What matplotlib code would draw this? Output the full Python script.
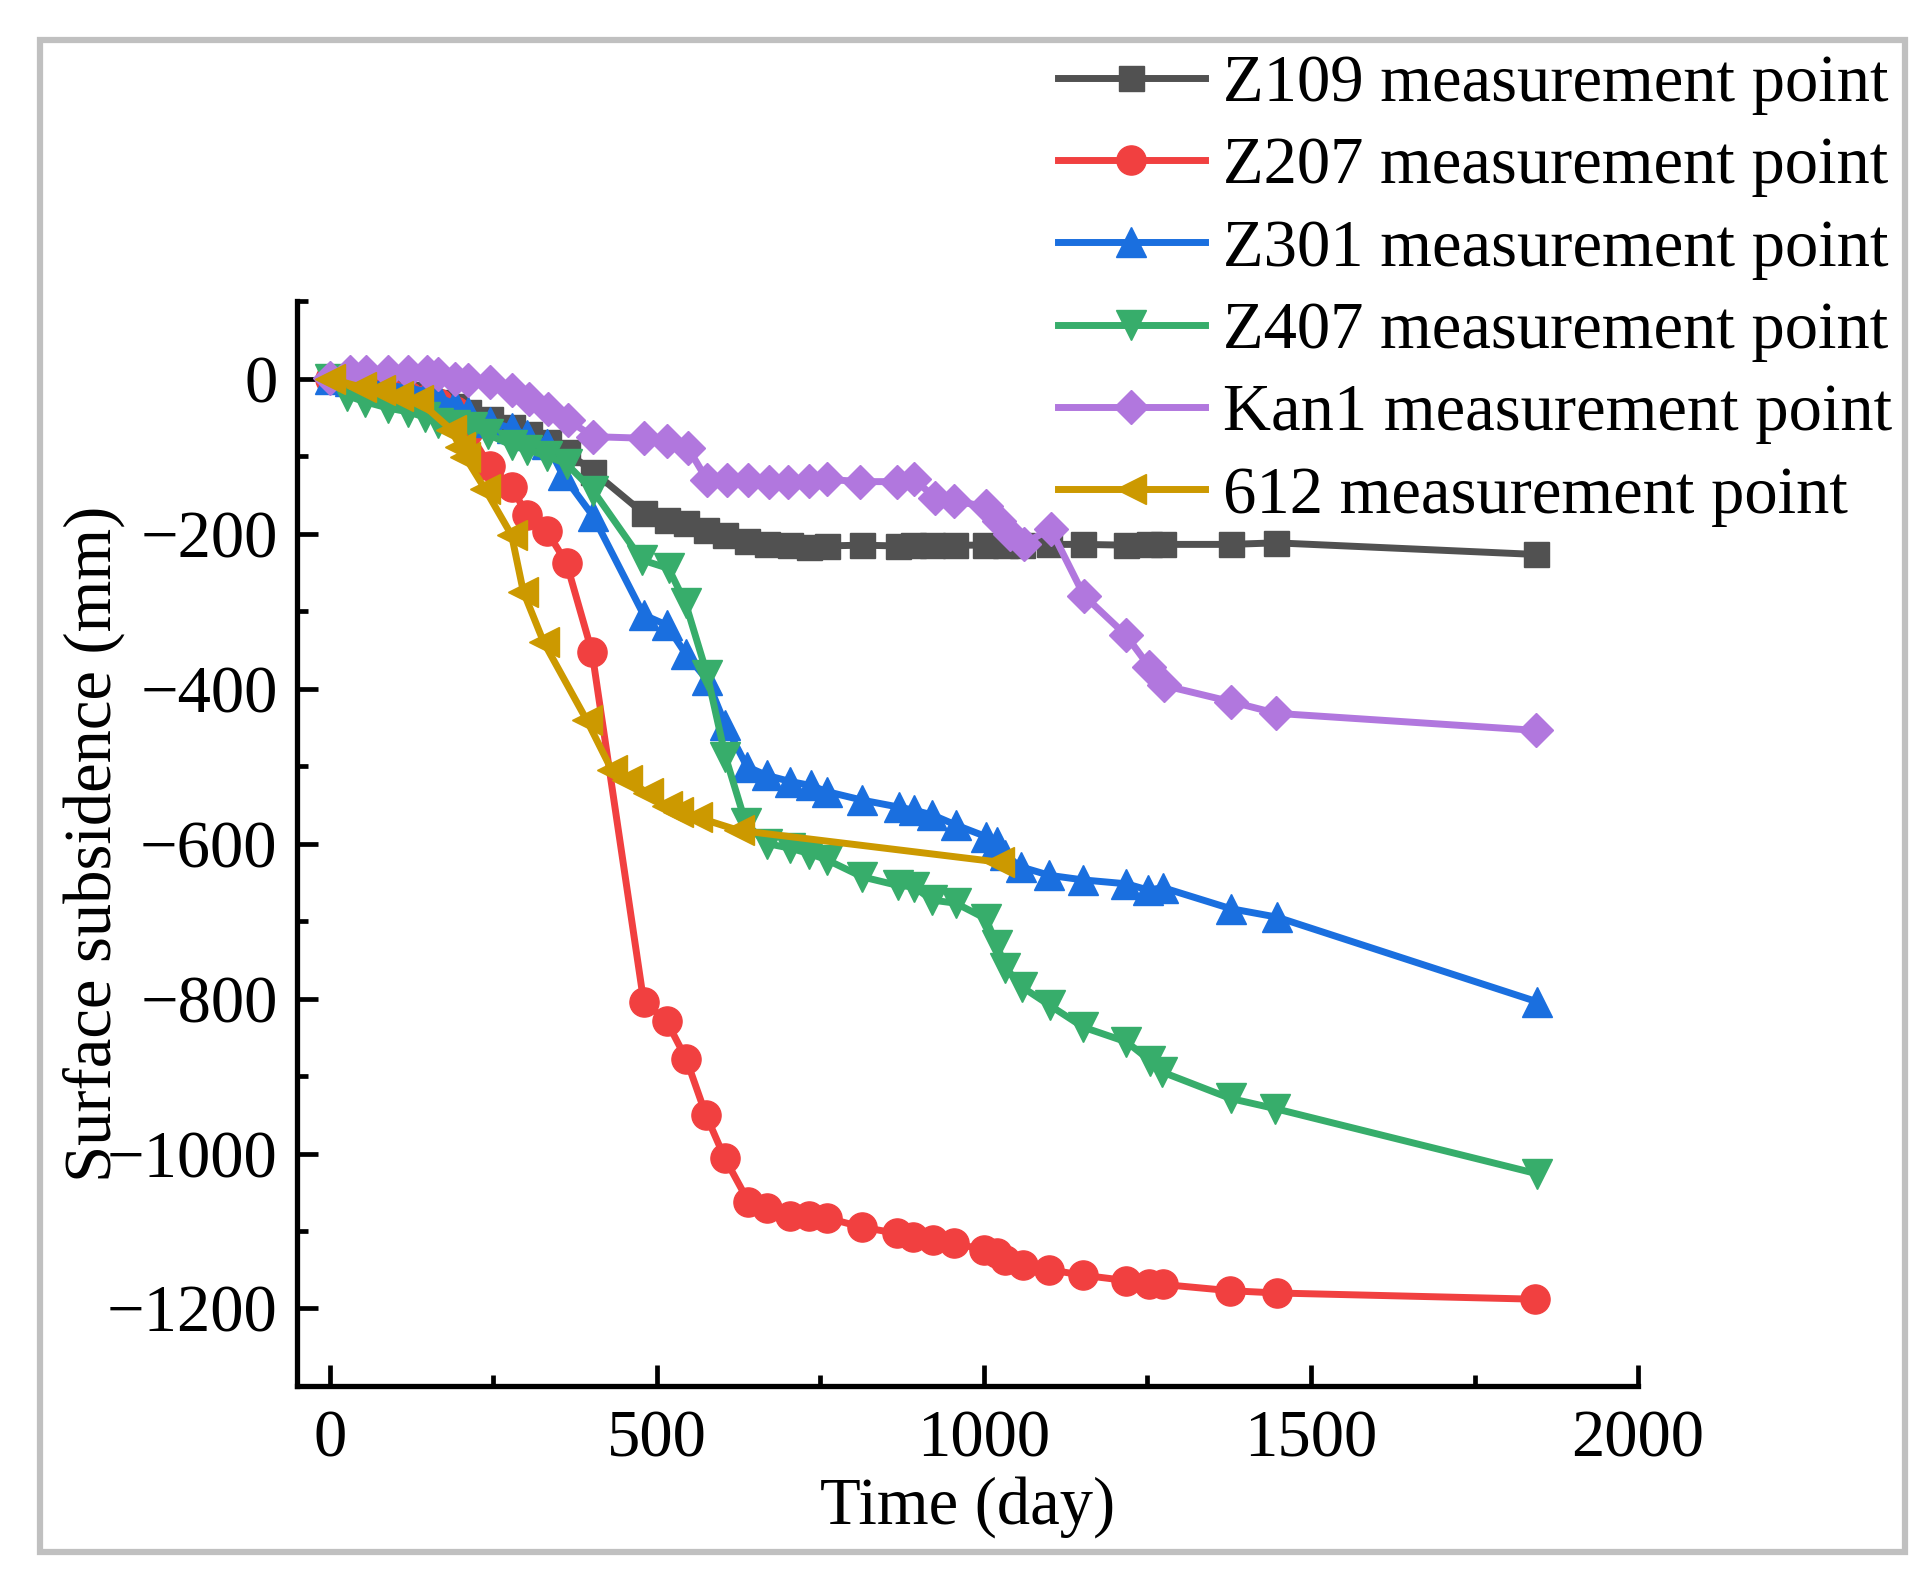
import matplotlib
matplotlib.use("Agg")
import matplotlib.pyplot as plt
from matplotlib.patches import Rectangle
from matplotlib.ticker import MultipleLocator

plt.rcParams["font.family"] = ["Liberation Serif", "DejaVu Serif"]

# measurement days and subsidence (mm) per point
Z109_DAYS = [0, 31, 56, 89, 120, 148, 166, 191, 212, 245, 278, 304, 334, 362, 403, 480, 515, 545,
             575, 604, 638, 668, 703, 733, 760, 813, 868, 892, 921, 956, 1002, 1033, 1058, 1100,
             1151, 1218, 1253, 1274, 1377, 1447, 1844]
Z109_VALS = [0, -5, -10, -15, -20, -25, -30, -36, -43, -52, -62, -72, -82, -95, -120, -174, -183,
             -186, -196, -202, -209, -213, -215, -217, -216, -215, -216, -215, -215, -215, -215,
             -215, -215, -214, -214, -215, -214, -214, -214, -212, -227]

Z207_DAYS = [0, 31, 56, 89, 120, 148, 166, 191, 212, 245, 279, 301, 332, 362, 401, 480, 515, 545,
             575, 604, 640, 668, 703, 732, 760, 813, 867, 891, 922, 955, 1000, 1020, 1033, 1060,
             1100, 1151, 1218, 1253, 1274, 1376, 1448, 1843]
Z207_VALS = [0, -8, -14, -18, -22, -26, -32, -42, -68, -113, -140, -176, -197, -238, -353, -804,
             -829, -878, -950, -1006, -1062, -1070, -1080, -1080, -1083, -1095, -1103, -1108,
             -1111, -1116, -1124, -1128, -1138, -1144, -1150, -1157, -1164, -1168, -1169, -1177,
             -1180, -1188]

Z301_DAYS = [0, 31, 56, 89, 120, 148, 166, 191, 212, 245, 278, 301, 332, 356, 403, 480, 515, 544,
             577, 605, 638, 668, 704, 735, 760, 814, 870, 893, 921, 957, 1003, 1020, 1033, 1056,
             1100, 1152, 1218, 1251, 1274, 1377, 1448, 1845]
Z301_VALS = [0, -3, -6, -9, -12, -17, -24, -33, -43, -56, -64, -73, -84, -124, -178, -305, -318,
             -355, -389, -447, -501, -512, -520, -525, -533, -544, -553, -557, -563, -576, -591,
             -598, -615, -630, -641, -647, -652, -660, -657, -684, -695, -804]

Z407_DAYS = [0, 26, 54, 89, 120, 146, 166, 191, 217, 242, 278, 301, 332, 362, 403, 477, 518, 544,
             577, 605, 636, 668, 704, 733, 760, 814, 868, 893, 921, 957, 1003, 1020, 1033, 1058,
             1101, 1152, 1218, 1254, 1273, 1377, 1445, 1845]
Z407_VALS = [0, -22, -30, -38, -43, -50, -58, -60, -62, -72, -86, -92, -100, -110, -145, -234,
             -245, -290, -382, -488, -574, -600, -606, -613, -621, -643, -654, -656, -673, -677,
             -697, -731, -760, -785, -809, -837, -856, -880, -895, -929, -942, -1026]

KAN1_DAYS = [0, 31, 56, 89, 120, 148, 166, 191, 212, 245, 278, 304, 334, 365, 403, 480, 515, 548,
             577, 607, 640, 671, 701, 732, 760, 811, 867, 893, 926, 954, 1003, 1023, 1040, 1061,
             1102, 1153, 1217, 1253, 1275, 1378, 1447, 1844]
KAN1_VALS = [1, 9, 9, 9, 9, 9, 6, 0, -2, -5, -15, -26, -39, -54, -75, -77, -80, -90, -131, -131,
             -131, -133, -133, -132, -130, -133, -133, -130, -154, -158, -165, -184, -200, -213,
             -194, -280, -331, -372, -396, -417, -432, -454]

P612_DAYS = [0, 48, 77, 105, 135, 186, 199, 207, 237, 278, 296, 327, 393, 431, 454, 487, 515, 533,
             561, 625, 1023]
P612_VALS = [0, -11, -15, -22, -28, -66, -88, -101, -142, -202, -275, -340, -441, -505, -518,
             -535, -551, -559, -566, -583, -624]

SERIES = [
    ("Z109 measurement point", Z109_DAYS, Z109_VALS, "#515151", "s", 18),
    ("Z207 measurement point", Z207_DAYS, Z207_VALS, "#F14040", "o", 21),
    ("Z301 measurement point", Z301_DAYS, Z301_VALS, "#1A6FDF", "^", 22),
    ("Z407 measurement point", Z407_DAYS, Z407_VALS, "#37AD6B", "v", 22),
    ("Kan1 measurement point", KAN1_DAYS, KAN1_VALS, "#B177DE", "D", 17),
    ("612 measurement point", P612_DAYS, P612_VALS, "#CC9900", "<", 22),
]

FS = 48

fig = plt.figure(figsize=(19.31, 15.82), dpi=100)
ax = fig.add_axes([0.1538, 0.1239, 0.6945, 0.6858])

for lab, d, v, c, m, ms in SERIES:
    ax.plot(d, v, color=c, lw=5, marker=m, ms=ms, mec=c, mfc=c, label=lab)

ax.set_xlim(-50, 2000)
ax.set_ylim(-1300, 100)
ax.xaxis.set_major_locator(MultipleLocator(500))
ax.xaxis.set_minor_locator(MultipleLocator(250))
ax.yaxis.set_major_locator(MultipleLocator(200))
ax.yaxis.set_minor_locator(MultipleLocator(100))

for s in ("top", "right"):
    ax.spines[s].set_visible(False)
for s in ("left", "bottom"):
    ax.spines[s].set_linewidth(3.8)

ax.tick_params(which="major", direction="in", length=15, width=3.4, labelsize=FS)
ax.tick_params(which="minor", direction="in", length=8, width=3.4)
ax.tick_params(axis="x", which="major", pad=17)
ax.tick_params(axis="y", which="major", pad=14)

ax.set_xlabel("Time (day)", fontsize=FS, labelpad=4)
ax.set_ylabel("Surface subsidence (mm)", fontsize=FS)
ax.yaxis.set_label_coords(-0.128, 0.5)

ax.legend(loc="upper left", bbox_to_anchor=(1058 / 1931, 1 - 54 / 1582),
          bbox_transform=fig.transFigure, frameon=False, fontsize=FS,
          borderpad=0, borderaxespad=0, handlelength=2.2, handletextpad=0.28,
          labelspacing=0.32)

# light grey frame around the whole figure
fig.patches.append(Rectangle((40 / 1931, 1 - 1552 / 1582), 1865 / 1931, 1512 / 1582,
                             transform=fig.transFigure, fill=False,
                             ec="#C0C0C0", lw=4.5, zorder=-1))

fig.savefig("out.png", dpi=100)
